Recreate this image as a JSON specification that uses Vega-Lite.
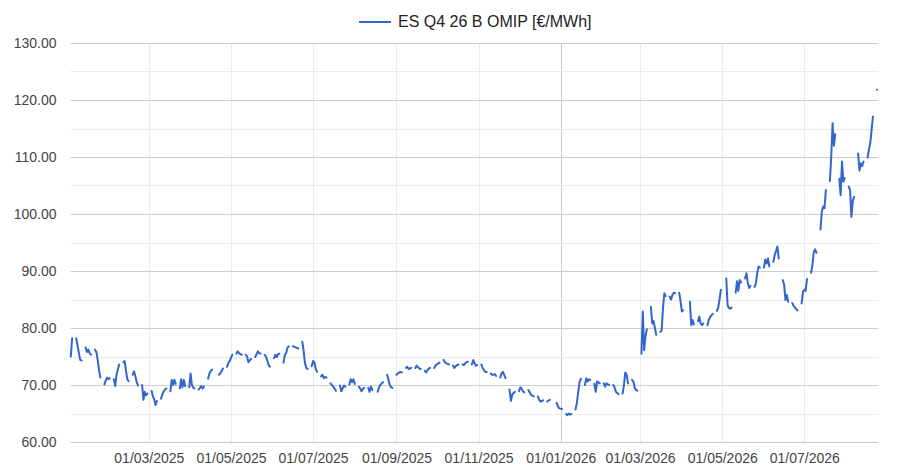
{
  "$schema": "https://vega.github.io/schema/vega-lite/v6.json",
  "width": 808,
  "height": 399,
  "autosize": {"type": "none"},
  "padding": {"left": 70, "top": 43, "right": 39, "bottom": 27},
  "background": "white",
  "config": {"view": {"stroke": null}, "font": "Liberation Sans"},
  "data": {
    "values": [
      {"d":"2025-01-02","v":75.0},{"d":"2025-01-03","v":78.2},
      {"d":"2025-01-06","v":78.2},{"d":"2025-01-07","v":77.0},{"d":"2025-01-08","v":75.6},{"d":"2025-01-09","v":74.4},{"d":"2025-01-10","v":74.3},
      {"d":"2025-01-13","v":76.6},{"d":"2025-01-14","v":75.8},{"d":"2025-01-15","v":76.2},{"d":"2025-01-16","v":75.6},{"d":"2025-01-17","v":75.3},
      {"d":"2025-01-20","v":76.2},{"d":"2025-01-21","v":75.8},{"d":"2025-01-22","v":74.4},{"d":"2025-01-23","v":72.6},{"d":"2025-01-24","v":71.3},
      {"d":"2025-01-27","v":70.1},{"d":"2025-01-28","v":70.8},{"d":"2025-01-29","v":71.3},{"d":"2025-01-30","v":71.0},{"d":"2025-01-31","v":71.2},
      {"d":"2025-02-03","v":71.0},{"d":"2025-02-04","v":69.8},{"d":"2025-02-05","v":71.8},{"d":"2025-02-06","v":72.8},{"d":"2025-02-07","v":73.6},
      {"d":"2025-02-10","v":74.0},{"d":"2025-02-11","v":74.2},{"d":"2025-02-12","v":72.5},{"d":"2025-02-13","v":71.0},{"d":"2025-02-14","v":70.7},
      {"d":"2025-02-17","v":71.8},{"d":"2025-02-18","v":72.4},{"d":"2025-02-19","v":71.5},{"d":"2025-02-20","v":70.5},{"d":"2025-02-21","v":69.9},
      {"d":"2025-02-24","v":70.0},{"d":"2025-02-25","v":67.4},{"d":"2025-02-26","v":68.8},{"d":"2025-02-27","v":68.2},{"d":"2025-02-28","v":68.5},
      {"d":"2025-03-03","v":69.0},{"d":"2025-03-04","v":68.0},{"d":"2025-03-05","v":67.5},{"d":"2025-03-06","v":66.5},{"d":"2025-03-07","v":67.2},
      {"d":"2025-03-10","v":67.6},{"d":"2025-03-11","v":68.3},{"d":"2025-03-12","v":68.9},{"d":"2025-03-13","v":69.2},{"d":"2025-03-14","v":69.4},
      {"d":"2025-03-17","v":68.9},{"d":"2025-03-18","v":70.9},{"d":"2025-03-19","v":70.0},{"d":"2025-03-20","v":70.9},{"d":"2025-03-21","v":70.2},
      {"d":"2025-03-24","v":69.4},{"d":"2025-03-25","v":71.0},{"d":"2025-03-26","v":69.6},{"d":"2025-03-27","v":70.9},{"d":"2025-03-28","v":69.8},
      {"d":"2025-03-31","v":69.6},{"d":"2025-04-01","v":72.0},{"d":"2025-04-02","v":70.0},{"d":"2025-04-03","v":69.5},{"d":"2025-04-04","v":69.4},
      {"d":"2025-04-07","v":69.2},{"d":"2025-04-08","v":69.5},{"d":"2025-04-09","v":69.8},{"d":"2025-04-10","v":69.4},{"d":"2025-04-11","v":69.7},
      {"d":"2025-04-14","v":71.1},{"d":"2025-04-15","v":72.0},{"d":"2025-04-16","v":72.5},{"d":"2025-04-17","v":72.7},
      {"d":"2025-04-22","v":71.8},{"d":"2025-04-23","v":72.0},{"d":"2025-04-24","v":72.4},{"d":"2025-04-25","v":72.9},
      {"d":"2025-04-28","v":73.2},{"d":"2025-04-29","v":73.8},{"d":"2025-04-30","v":74.2},{"d":"2025-05-02","v":75.3},
      {"d":"2025-05-05","v":75.5},{"d":"2025-05-06","v":75.9},{"d":"2025-05-07","v":75.6},{"d":"2025-05-08","v":75.4},{"d":"2025-05-09","v":75.3},
      {"d":"2025-05-12","v":75.3},{"d":"2025-05-13","v":75.0},{"d":"2025-05-14","v":74.0},{"d":"2025-05-15","v":74.3},{"d":"2025-05-16","v":74.6},
      {"d":"2025-05-19","v":74.9},{"d":"2025-05-20","v":75.4},{"d":"2025-05-21","v":75.9},{"d":"2025-05-22","v":75.6},{"d":"2025-05-23","v":75.5},
      {"d":"2025-05-26","v":75.3},{"d":"2025-05-27","v":75.0},{"d":"2025-05-28","v":74.3},{"d":"2025-05-29","v":73.5},{"d":"2025-05-30","v":73.2},
      {"d":"2025-06-02","v":74.7},{"d":"2025-06-03","v":75.3},{"d":"2025-06-04","v":74.9},{"d":"2025-06-05","v":75.4},{"d":"2025-06-06","v":75.5},
      {"d":"2025-06-09","v":73.9},{"d":"2025-06-10","v":75.2},{"d":"2025-06-11","v":75.6},{"d":"2025-06-12","v":76.5},{"d":"2025-06-13","v":76.8},
      {"d":"2025-06-16","v":76.8},{"d":"2025-06-17","v":76.7},{"d":"2025-06-18","v":76.6},{"d":"2025-06-19","v":76.5},{"d":"2025-06-20","v":76.4},
      {"d":"2025-06-23","v":77.6},{"d":"2025-06-24","v":76.0},{"d":"2025-06-25","v":73.8},{"d":"2025-06-26","v":73.0},{"d":"2025-06-27","v":72.8},
      {"d":"2025-06-30","v":73.3},{"d":"2025-07-01","v":74.2},{"d":"2025-07-02","v":74.0},{"d":"2025-07-03","v":72.8},{"d":"2025-07-04","v":72.3},
      {"d":"2025-07-07","v":71.5},{"d":"2025-07-08","v":71.8},{"d":"2025-07-09","v":71.2},{"d":"2025-07-10","v":71.4},{"d":"2025-07-11","v":71.3},
      {"d":"2025-07-14","v":70.3},{"d":"2025-07-15","v":70.0},{"d":"2025-07-16","v":69.7},{"d":"2025-07-17","v":69.4},{"d":"2025-07-18","v":69.0},
      {"d":"2025-07-21","v":69.9},{"d":"2025-07-22","v":68.9},{"d":"2025-07-23","v":69.4},{"d":"2025-07-24","v":69.9},{"d":"2025-07-25","v":69.7},
      {"d":"2025-07-28","v":70.1},{"d":"2025-07-29","v":71.0},{"d":"2025-07-30","v":70.5},{"d":"2025-07-31","v":71.0},{"d":"2025-08-01","v":70.2},
      {"d":"2025-08-04","v":69.7},{"d":"2025-08-05","v":69.4},{"d":"2025-08-06","v":68.9},{"d":"2025-08-07","v":69.3},{"d":"2025-08-08","v":69.5},
      {"d":"2025-08-11","v":69.5},{"d":"2025-08-12","v":68.8},{"d":"2025-08-13","v":69.7},{"d":"2025-08-14","v":69.1},
      {"d":"2025-08-18","v":68.8},{"d":"2025-08-19","v":69.6},{"d":"2025-08-20","v":70.0},{"d":"2025-08-21","v":70.3},{"d":"2025-08-22","v":70.5},
      {"d":"2025-08-25","v":71.8},{"d":"2025-08-26","v":70.9},{"d":"2025-08-27","v":70.0},{"d":"2025-08-28","v":69.6},{"d":"2025-08-29","v":69.5},
      {"d":"2025-09-01","v":71.8},{"d":"2025-09-02","v":72.0},{"d":"2025-09-03","v":72.2},{"d":"2025-09-04","v":72.3},{"d":"2025-09-05","v":72.2},
      {"d":"2025-09-08","v":73.0},{"d":"2025-09-09","v":73.2},{"d":"2025-09-10","v":72.8},{"d":"2025-09-11","v":72.9},{"d":"2025-09-12","v":73.0},
      {"d":"2025-09-15","v":73.0},{"d":"2025-09-16","v":73.4},{"d":"2025-09-17","v":73.1},{"d":"2025-09-18","v":72.9},{"d":"2025-09-19","v":72.8},
      {"d":"2025-09-22","v":72.5},{"d":"2025-09-23","v":72.2},{"d":"2025-09-24","v":72.6},{"d":"2025-09-25","v":72.9},{"d":"2025-09-26","v":73.0},
      {"d":"2025-09-29","v":73.0},{"d":"2025-09-30","v":73.4},{"d":"2025-10-01","v":73.6},{"d":"2025-10-02","v":73.8},{"d":"2025-10-03","v":73.9},
      {"d":"2025-10-06","v":74.4},{"d":"2025-10-07","v":74.0},{"d":"2025-10-08","v":73.8},{"d":"2025-10-09","v":73.7},{"d":"2025-10-10","v":73.6},
      {"d":"2025-10-13","v":73.4},{"d":"2025-10-14","v":73.0},{"d":"2025-10-15","v":73.3},{"d":"2025-10-16","v":73.5},{"d":"2025-10-17","v":73.6},
      {"d":"2025-10-20","v":73.6},{"d":"2025-10-21","v":73.5},{"d":"2025-10-22","v":73.8},{"d":"2025-10-23","v":74.0},{"d":"2025-10-24","v":74.1},
      {"d":"2025-10-27","v":73.6},{"d":"2025-10-28","v":74.4},{"d":"2025-10-29","v":73.8},{"d":"2025-10-30","v":73.4},{"d":"2025-10-31","v":73.5},
      {"d":"2025-11-03","v":73.6},{"d":"2025-11-04","v":73.0},{"d":"2025-11-05","v":72.6},{"d":"2025-11-06","v":72.3},{"d":"2025-11-07","v":72.3},
      {"d":"2025-11-10","v":72.0},{"d":"2025-11-11","v":71.8},{"d":"2025-11-12","v":71.8},{"d":"2025-11-13","v":71.9},{"d":"2025-11-14","v":71.6},
      {"d":"2025-11-17","v":71.3},{"d":"2025-11-18","v":72.0},{"d":"2025-11-19","v":72.3},{"d":"2025-11-20","v":71.8},{"d":"2025-11-21","v":71.2},
      {"d":"2025-11-24","v":69.2},{"d":"2025-11-25","v":67.2},{"d":"2025-11-26","v":68.3},{"d":"2025-11-27","v":68.6},{"d":"2025-11-28","v":68.8},
      {"d":"2025-12-01","v":68.9},{"d":"2025-12-02","v":69.6},{"d":"2025-12-03","v":69.3},{"d":"2025-12-04","v":68.9},{"d":"2025-12-05","v":68.7},
      {"d":"2025-12-08","v":69.1},{"d":"2025-12-09","v":68.7},{"d":"2025-12-10","v":68.3},{"d":"2025-12-11","v":68.1},{"d":"2025-12-12","v":68.0},
      {"d":"2025-12-15","v":68.0},{"d":"2025-12-16","v":67.4},{"d":"2025-12-17","v":67.1},{"d":"2025-12-18","v":67.2},{"d":"2025-12-19","v":67.3},
      {"d":"2025-12-22","v":67.1},{"d":"2025-12-23","v":67.3},{"d":"2025-12-24","v":67.4},
      {"d":"2025-12-29","v":66.9},{"d":"2025-12-30","v":66.2},{"d":"2025-12-31","v":65.9},
      {"d":"2026-01-02","v":65.8},
      {"d":"2026-01-05","v":64.9},{"d":"2026-01-06","v":64.7},{"d":"2026-01-07","v":65.0},{"d":"2026-01-08","v":64.8},{"d":"2026-01-09","v":64.9},
      {"d":"2026-01-12","v":65.7},{"d":"2026-01-13","v":66.8},{"d":"2026-01-14","v":68.7},{"d":"2026-01-15","v":70.5},{"d":"2026-01-16","v":71.1},
      {"d":"2026-01-19","v":70.0},{"d":"2026-01-20","v":71.2},{"d":"2026-01-21","v":70.6},{"d":"2026-01-22","v":71.0},{"d":"2026-01-23","v":70.9},
      {"d":"2026-01-26","v":70.2},{"d":"2026-01-27","v":68.8},{"d":"2026-01-28","v":70.6},{"d":"2026-01-29","v":70.5},{"d":"2026-01-30","v":70.3},
      {"d":"2026-02-02","v":70.3},{"d":"2026-02-03","v":69.7},{"d":"2026-02-04","v":70.3},{"d":"2026-02-05","v":70.1},{"d":"2026-02-06","v":70.0},
      {"d":"2026-02-09","v":70.0},{"d":"2026-02-10","v":69.6},{"d":"2026-02-11","v":68.8},{"d":"2026-02-12","v":68.6},{"d":"2026-02-13","v":68.4},
      {"d":"2026-02-16","v":68.5},{"d":"2026-02-17","v":70.0},{"d":"2026-02-18","v":72.2},{"d":"2026-02-19","v":71.8},{"d":"2026-02-20","v":70.3},
      {"d":"2026-02-23","v":70.9},{"d":"2026-02-24","v":70.6},{"d":"2026-02-25","v":69.5},{"d":"2026-02-26","v":69.1},{"d":"2026-02-27","v":69.0},
      {"d":"2026-03-02","v":75.5},{"d":"2026-03-03","v":82.9},{"d":"2026-03-04","v":76.1},{"d":"2026-03-05","v":78.5},{"d":"2026-03-06","v":79.8},
      {"d":"2026-03-09","v":83.7},{"d":"2026-03-10","v":80.8},{"d":"2026-03-11","v":81.2},{"d":"2026-03-12","v":80.0},{"d":"2026-03-13","v":78.8},
      {"d":"2026-03-16","v":79.3},{"d":"2026-03-17","v":79.6},{"d":"2026-03-18","v":83.5},{"d":"2026-03-19","v":86.1},{"d":"2026-03-20","v":85.6},
      {"d":"2026-03-23","v":85.5},{"d":"2026-03-24","v":85.0},{"d":"2026-03-25","v":85.8},{"d":"2026-03-26","v":86.2},{"d":"2026-03-27","v":86.1},
      {"d":"2026-03-30","v":86.2},{"d":"2026-03-31","v":84.8},{"d":"2026-04-01","v":82.9},{"d":"2026-04-02","v":83.1},
      {"d":"2026-04-07","v":84.6},{"d":"2026-04-08","v":80.5},{"d":"2026-04-09","v":81.4},{"d":"2026-04-10","v":80.6},
      {"d":"2026-04-13","v":81.2},{"d":"2026-04-14","v":82.0},{"d":"2026-04-15","v":80.8},{"d":"2026-04-16","v":80.5},{"d":"2026-04-17","v":80.8},
      {"d":"2026-04-20","v":80.5},{"d":"2026-04-21","v":81.4},{"d":"2026-04-22","v":81.9},{"d":"2026-04-23","v":82.2},{"d":"2026-04-24","v":82.5},
      {"d":"2026-04-27","v":83.0},{"d":"2026-04-28","v":83.5},{"d":"2026-04-29","v":85.0},{"d":"2026-04-30","v":86.7},
      {"d":"2026-05-04","v":88.7},{"d":"2026-05-05","v":84.0},{"d":"2026-05-06","v":83.5},{"d":"2026-05-07","v":83.4},{"d":"2026-05-08","v":83.6},
      {"d":"2026-05-11","v":86.2},{"d":"2026-05-12","v":88.2},{"d":"2026-05-13","v":86.5},{"d":"2026-05-14","v":88.4},{"d":"2026-05-15","v":88.0},
      {"d":"2026-05-18","v":88.7},{"d":"2026-05-19","v":89.6},{"d":"2026-05-20","v":88.0},{"d":"2026-05-21","v":87.0},{"d":"2026-05-22","v":87.4},
      {"d":"2026-05-25","v":87.2},{"d":"2026-05-26","v":87.8},{"d":"2026-05-27","v":89.6},{"d":"2026-05-28","v":90.8},{"d":"2026-05-29","v":90.6},
      {"d":"2026-06-01","v":90.6},{"d":"2026-06-02","v":92.0},{"d":"2026-06-03","v":91.3},{"d":"2026-06-04","v":92.2},{"d":"2026-06-05","v":90.8},
      {"d":"2026-06-08","v":91.6},{"d":"2026-06-09","v":92.8},{"d":"2026-06-10","v":93.5},{"d":"2026-06-11","v":94.3},{"d":"2026-06-12","v":92.2},
      {"d":"2026-06-15","v":88.4},{"d":"2026-06-16","v":87.6},{"d":"2026-06-17","v":84.9},{"d":"2026-06-18","v":85.8},{"d":"2026-06-19","v":84.6},
      {"d":"2026-06-22","v":84.4},{"d":"2026-06-23","v":83.9},{"d":"2026-06-24","v":83.6},{"d":"2026-06-25","v":83.3},{"d":"2026-06-26","v":83.1},
      {"d":"2026-06-29","v":84.3},{"d":"2026-06-30","v":86.4},{"d":"2026-07-01","v":86.7},{"d":"2026-07-02","v":86.5},{"d":"2026-07-03","v":88.6},
      {"d":"2026-07-06","v":89.7},{"d":"2026-07-07","v":91.0},{"d":"2026-07-08","v":93.3},{"d":"2026-07-09","v":93.8},{"d":"2026-07-10","v":93.2},
      {"d":"2026-07-13","v":97.3},{"d":"2026-07-14","v":100.4},{"d":"2026-07-15","v":101.3},{"d":"2026-07-16","v":101.0},{"d":"2026-07-17","v":104.2},
      {"d":"2026-07-20","v":105.8},{"d":"2026-07-21","v":110.0},{"d":"2026-07-22","v":115.9},{"d":"2026-07-23","v":112.0},{"d":"2026-07-24","v":114.0},
      {"d":"2026-07-27","v":106.2},{"d":"2026-07-28","v":103.3},{"d":"2026-07-29","v":109.2},{"d":"2026-07-30","v":105.7},{"d":"2026-07-31","v":106.3},
      {"d":"2026-08-03","v":104.8},{"d":"2026-08-04","v":104.2},{"d":"2026-08-05","v":99.5},{"d":"2026-08-06","v":102.3},{"d":"2026-08-07","v":103.0},
      {"d":"2026-08-10","v":110.6},{"d":"2026-08-11","v":107.6},{"d":"2026-08-12","v":108.9},{"d":"2026-08-13","v":108.4},{"d":"2026-08-14","v":109.2},
      {"d":"2026-08-17","v":109.9},{"d":"2026-08-18","v":111.3},{"d":"2026-08-19","v":112.4},{"d":"2026-08-20","v":114.8},{"d":"2026-08-21","v":117.1},
      {"d":"2026-08-24","v":121.8}
    ]
  },
  "mark": {"type": "line", "strokeWidth": 2, "strokeCap": "round", "strokeJoin": "round"},
  "encoding": {
    "x": {
      "field": "d",
      "type": "temporal",
      "scale": {
        "type": "utc",
        "domain": [
          {"year": 2025, "month": 1, "date": 1, "hours": 10, "utc": true},
          {"year": 2026, "month": 8, "date": 24, "hours": 18, "utc": true}
        ]
      },
      "axis": {
        "title": null,
        "values": [
          {"year": 2025, "month": 3, "date": 1, "utc": true},
          {"year": 2025, "month": 5, "date": 1, "utc": true},
          {"year": 2025, "month": 7, "date": 1, "utc": true},
          {"year": 2025, "month": 9, "date": 1, "utc": true},
          {"year": 2025, "month": 11, "date": 1, "utc": true},
          {"year": 2026, "month": 1, "date": 1, "utc": true},
          {"year": 2026, "month": 3, "date": 1, "utc": true},
          {"year": 2026, "month": 5, "date": 1, "utc": true},
          {"year": 2026, "month": 7, "date": 1, "utc": true}
        ],
        "labelExpr": "utcFormat(datum.value, '%d/%m/%Y')",
        "domain": false,
        "ticks": false,
        "labelPadding": 9,
        "labelFontSize": 14,
        "labelColor": "#444444",
        "labelOverlap": false,
        "gridColor": {"condition": {"test": "utcmonth(datum.value) === 0", "value": "#cccccc"}, "value": "#ebebeb"},
        "gridOpacity": 1
      }
    },
    "y": {
      "field": "v",
      "type": "quantitative",
      "scale": {"domain": [60, 130], "nice": false, "zero": false},
      "axis": {
        "title": null,
        "values": [60, 65, 70, 75, 80, 85, 90, 95, 100, 105, 110, 115, 120, 125, 130],
        "labelExpr": "datum.value % 10 === 0 ? format(datum.value, '.2f') : ''",
        "domain": false,
        "ticks": false,
        "labelPadding": 14,
        "labelFontSize": 14,
        "labelColor": "#444444",
        "labelOverlap": false,
        "gridColor": {"condition": {"test": "datum.value % 10 === 0", "value": "#cccccc"}, "value": "#ebebeb"},
        "gridOpacity": 1
      }
    },
    "detail": {"field": "d", "timeUnit": "utcyearweek", "type": "ordinal"},
    "color": {
      "datum": "ES Q4 26 B OMIP [€/MWh]",
      "type": "nominal",
      "scale": {"range": ["#3366cc"]},
      "legend": {
        "title": null,
        "orient": "none",
        "legendX": 288,
        "legendY": -38,
        "padding": 0,
        "symbolType": "stroke",
        "symbolSize": 1024,
        "symbolStrokeWidth": 2,
        "labelFontSize": 16,
        "labelLimit": 400,
        "labelColor": "#222222",
        "labelOffset": 6
      }
    }
  }
}
